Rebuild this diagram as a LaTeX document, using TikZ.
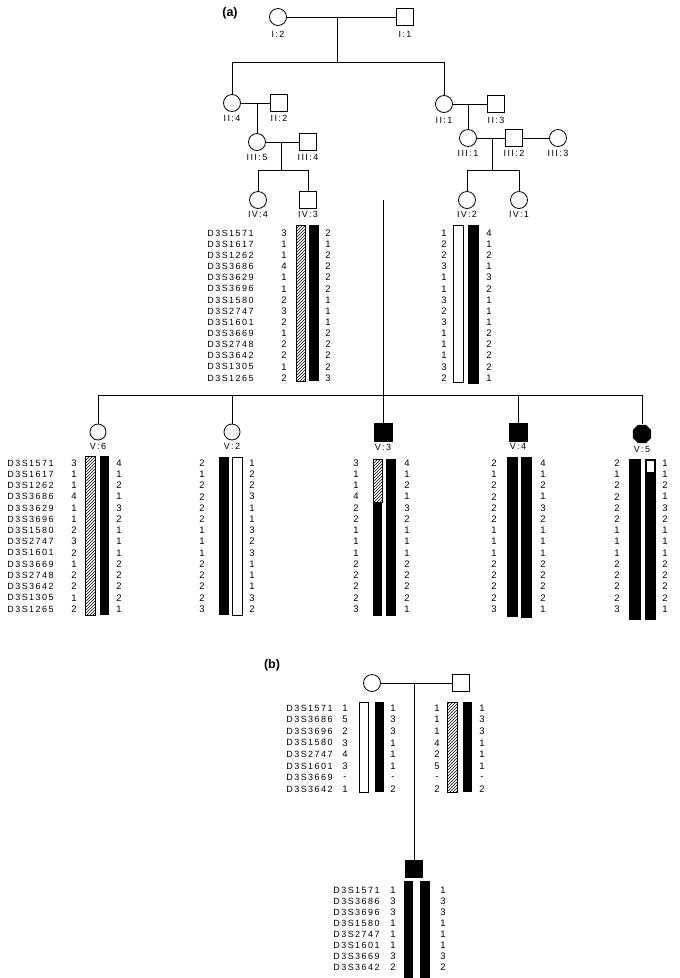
\documentclass[tikz,border=0pt]{standalone}
\usepackage{fontspec}
\setsansfont{Liberation Sans}
\newfontfamily\gfont{Liberation Sans}[LetterSpace=16]
\usetikzlibrary{positioning,shapes.geometric,patterns}

\begin{document}
\begin{tikzpicture}[x = 1pt, y = -1pt, line width = .8pt,
  fem/.style = {draw, circle, minimum size = 17pt, inner sep = 0pt},
  mal/.style = {draw, rectangle, minimum size = 17pt, inner sep = 0pt},
  affmal/.style = {mal, fill = black},
  afffem/.style = {regular polygon, regular polygon sides = 8, fill = black, minimum size = 20pt, inner sep = 0pt},
  idl/.style = {font = \gfont\fontsize{9}{10}\selectfont, inner sep = 1pt},
  mrk/.style = {anchor = west, font = \gfont\fontsize{9}{10}\selectfont, inner sep = 0pt},
  al/.style = {font = \sffamily\fontsize{9.5}{10}\selectfont, inner sep = 0pt},
  tag/.style = {font = \sffamily\bfseries\fontsize{12.5}{14}\selectfont},
  hbar/.style = {draw, line width = .6pt, pattern = north east lines},
  wbar/.style = {draw, line width = .6pt, fill = white},
  bbar/.style = {fill = black}]
\useasboundingbox (0,0) rectangle (680,978);

\node[tag] (taga) at (230,13) {(a)};
\node[tag] (tagb) at (272,665) {(b)};

% generations I to III
\node[fem] (I2) at (278,17) {};
\node[mal] (I1) at (405,17) {};
\node[idl, below = 4pt of I2] (I2l) {I:2};
\node[idl, below = 4pt of I1] (I1l) {I:1};
\node[fem] (II4) at (232,103) {};
\node[mal] (II2) at (279,103) {};
\node[fem] (II1) at (444,104) {};
\node[mal] (II3) at (496,104) {};
\node[idl, below = 2pt of II4] (II4l) {II:4};
\node[idl, below = 2pt of II2] (II2l) {II:2};
\node[idl, below = 3pt of II1] (II1l) {II:1};
\node[idl, below = 3pt of II3] (II3l) {II:3};
\node[fem] (III5) at (257,142) {};
\node[mal] (III4) at (308,142) {};
\node[fem] (III1) at (468,138) {};
\node[mal] (III2) at (514,138) {};
\node[fem] (III3) at (558,138) {};
\node[idl, below = 2pt of III5] (III5l) {III:5};
\node[idl, below = 2pt of III4] (III4l) {III:4};
\node[idl, below = 2pt of III1] (III1l) {III:1};
\node[idl, below = 2pt of III2] (III2l) {III:2};
\node[idl, below = 2pt of III3] (III3l) {III:3};

% generation IV
\node[fem] (IV4) at (258,200) {};
\node[mal] (IV3) at (308,200) {};
\node[fem] (IV2) at (467,200) {};
\node[fem] (IV1) at (519,200) {};
\node[idl, below = 1pt of IV4] (IV4l) {IV:4};
\node[idl, below = 1pt of IV3] (IV3l) {IV:3};
\node[idl, below = 1pt of IV2] (IV2l) {IV:2};
\node[idl, below = 1pt of IV1] (IV1l) {IV:1};

% generation V
\node[fem, minimum size = 16pt] (V6) at (98,432) {};
\node[fem, minimum size = 16pt] (V2) at (232,432) {};
\node[affmal, minimum size = 18pt] (V3) at (383,432) {};
\node[affmal, minimum size = 18pt] (V4) at (518,432) {};
\node[afffem] (V5) at (642,434) {};
\node[idl, below = 1pt of V6] (V6l) {V:6};
\node[idl, below = 1pt of V2] (V2l) {V:2};
\node[idl, below = 1pt of V3] (V3l) {V:3};
\node[idl, below = 1pt of V4] (V4l) {V:4};
\node[idl, below = 1pt of V5] (V5l) {V:5};

% lines of descent
\coordinate (m1) at (337,17);
\coordinate (s1) at (337,62);
\coordinate (s1a) at (232,62);
\coordinate (s1b) at (444,62);
\draw (I2) -- (I1);
\draw (m1) -- (s1);
\draw (s1a) -- (s1b);
\draw (s1a) -- (II4);
\draw (s1b) -- (II1);
\draw (II4) -- (II2);
\coordinate (m2) at (257,103);
\draw (m2) -- (III5);
\draw (II1) -- (II3);
\coordinate (m3) at (468,104);
\draw (m3) -- (III1);
\draw (III5) -- (III4);
\coordinate (m4) at (281,142);
\coordinate (s4) at (281,170);
\coordinate (s4a) at (258,170);
\coordinate (s4b) at (308,170);
\draw (m4) -- (s4);
\draw (s4a) -- (s4b);
\draw (s4a) -- (IV4);
\draw (s4b) -- (IV3);
\draw (III1) -- (III2);
\draw (III2) -- (III3);
\coordinate (m5) at (492,138);
\coordinate (s5) at (492,170);
\coordinate (s5a) at (467,170);
\coordinate (s5b) at (519,170);
\draw (m5) -- (s5);
\draw (s5a) -- (s5b);
\draw (s5a) -- (IV2);
\draw (s5b) -- (IV1);
\draw[double, double distance = 1.4pt, line width = .6pt] (IV3) -- (IV2);
\coordinate (m6) at (383,200);
\coordinate (s6) at (383,395);
\coordinate (s6a) at (98,395);
\coordinate (s6b) at (642,395);
\draw (m6) -- (s6);
\draw (s6a) -- (s6b);
\foreach \c in {V6,V2,V3,V4,V5}
  \draw (s6a -| \c) -- (\c);

% haplotype bars, generation IV
\path[hbar] (296,225) rectangle (305,381);
\fill[bbar] (309,225) rectangle (319,381);
\path[wbar] (453,225) rectangle (463,382);
\fill[bbar] (468,225) rectangle (479,384);

% haplotype bars, generation V
\path[hbar] (85,456) rectangle (95,615);
\fill[bbar] (100,456) rectangle (109,615);
\fill[bbar] (219,457) rectangle (229,615);
\path[wbar] (232,457) rectangle (242,615);
\path[hbar] (373,459) rectangle (382,502);
\fill[bbar] (373,502) rectangle (382,616);
\fill[bbar] (386,459) rectangle (396,616);
\fill[bbar] (507,457) rectangle (518,617);
\fill[bbar] (521,457) rectangle (532,618);
\fill[bbar] (629,459) rectangle (641,620);
\fill[bbar] (645,459) rectangle (656,620);
\fill[white] (647,461) rectangle (654,472);

% markers and alleles, (a)
\foreach \m [count = \i from 0] in {D3S1571,D3S1617,D3S1262,D3S3686,D3S3629,D3S3696,D3S1580,D3S2747,D3S1601,D3S3669,D3S2748,D3S3642,D3S1305,D3S1265} {
  \node[mrk] (mk4-\i) at (207, {233 + 11.15*\i}) {\m};
  \node[mrk] (mk5-\i) at (7, {463 + 11.23*\i}) {\m};
}
\foreach \x/\vals in {284/{3,1,1,4,1,1,2,3,2,1,2,2,1,2}, 328/{2,1,2,2,2,2,1,1,1,2,2,2,2,3},
    444/{1,2,2,3,1,1,3,2,3,1,1,1,3,2}, 489/{4,1,2,1,3,2,1,1,1,2,2,2,2,1}}
  \foreach \v [count = \i from 0] in \vals
    \node[al] (a\x-\i) at (\x, {233 + 11.15*\i}) {\v};
\foreach \x/\vals in {74/{3,1,1,4,1,1,2,3,2,1,2,2,1,2}, 119/{4,1,2,1,3,2,1,1,1,2,2,2,2,1},
    202/{2,1,2,2,2,2,1,1,1,2,2,2,2,3}, 252/{1,2,2,3,1,1,3,2,3,1,1,1,3,2},
    356/{3,1,1,4,2,2,1,1,1,2,2,2,2,3}, 407/{4,1,2,1,3,2,1,1,1,2,2,2,2,1},
    494/{2,1,2,2,2,2,1,1,1,2,2,2,2,3}, 543/{4,1,2,1,3,2,1,1,1,2,2,2,2,1},
    617/{2,1,2,2,2,2,1,1,1,2,2,2,2,3}, 665/{1,1,2,1,3,2,1,1,1,2,2,2,2,1}}
  \foreach \v [count = \i from 0] in \vals
    \node[al] (a\x-\i) at (\x, {463 + 11.23*\i}) {\v};

% family (b)
\node[fem] (bM) at (372,683) {};
\node[mal] (bF) at (461,683) {};
\node[affmal] (bC) at (414,869) {};
\coordinate (mb) at (414,683);
\draw (bM) -- (bF);
\draw (mb) -- (bC);
\path[wbar] (359,702) rectangle (368,792);
\fill[bbar] (375,702) rectangle (384,792);
\path[hbar] (447,702) rectangle (457,792);
\fill[bbar] (463,702) rectangle (472,792);
\fill[bbar] (404,881) rectangle (413,978);
\fill[bbar] (420,881) rectangle (430,978);
\foreach \m [count = \i from 0] in {D3S1571,D3S3686,D3S3696,D3S1580,D3S2747,D3S1601,D3S3669,D3S3642} {
  \node[mrk] (mkb-\i) at (286, {708 + 11.6*\i}) {\m};
  \node[mrk] (mkc-\i) at (333, {890 + 11*\i}) {\m};
}
\foreach \x/\vals in {345/{1,5,2,3,4,3,-,1}, 393/{1,3,3,1,1,1,-,2},
    437/{1,1,1,4,2,5,-,2}, 482/{1,3,3,1,1,1,-,2}}
  \foreach \v [count = \i from 0] in \vals
    \node[al] (b\x-\i) at (\x, {708 + 11.6*\i}) {\v};
\foreach \x/\vals in {393/{1,3,3,1,1,1,3,2}, 443/{1,3,3,1,1,1,3,2}}
  \foreach \v [count = \i from 0] in \vals
    \node[al] (c\x-\i) at (\x, {890 + 11*\i}) {\v};
\end{tikzpicture}
\end{document}
